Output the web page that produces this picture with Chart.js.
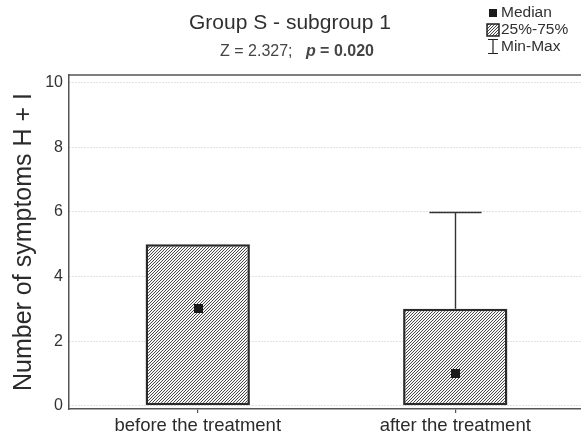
<!DOCTYPE html>
<html>
<head>
<meta charset="utf-8">
<script src="https://cdn.jsdelivr.net/npm/chart.js@4/dist/chart.umd.min.js"></script>
<style>
  html, body { margin: 0; padding: 0; background: #fff; overflow: hidden; }
  /* the plot runs off the right edge of the frame */
  #wrap { width: 581px; height: 440px; position: relative; overflow: hidden; }
  #c { display: block; }
</style>
</head>
<body>
<div id="wrap"><canvas id="c" width="584" height="440"></canvas></div>
<script>
// Categories and box-plot statistics
const categories = ['before the treatment', 'after the treatment'];
const q1Values     = [0, 0];
const q3Values     = [5, 3];
const medianValues = [3, 1];
const minValues    = [0, 0];
const maxValues    = [5, 6];
const yTicks       = [0, 2, 4, 6, 8, 10];

const titleText    = 'Group S - subgroup 1';
const statText     = 'Z = 2.327;   ';
const pLabel       = 'p';
const pValueText   = ' = 0.020';
const yAxisTitle   = 'Number of symptoms H + I';
const legendLabels = ['Median', '25%-75%', 'Min-Max'];

const FONT = '"Liberation Sans", Arial, sans-serif';
const INK = '#2b2b2b';

// Diagonal hatch ("////") used for the interquartile boxes
function makeHatch() {
  const t = document.createElement('canvas');
  t.width = 3; t.height = 3;
  const g = t.getContext('2d');
  g.fillStyle = '#f6f6f6';
  g.fillRect(0, 0, 3, 3);
  g.fillStyle = '#4a4a4a';
  g.fillRect(0, 2, 1, 1);
  g.fillRect(1, 1, 1, 1);
  g.fillRect(2, 0, 1, 1);
  return g.createPattern(t, 'repeat');
}
const hatch = makeHatch();

// Whiskers, medians, frame, titles and legend
const boxExtras = {
  id: 'boxExtras',
  afterDatasetsDraw(chart) {
    const { ctx, chartArea } = chart;
    const x = chart.scales.x, y = chart.scales.y;
    const meta = chart.getDatasetMeta(0);
    ctx.save();
    meta.data.forEach((bar, i) => {
      const cx = Math.round(x.getPixelForValue(i)) + 0.5;
      const half = bar.width / 4;
      ctx.strokeStyle = '#333';
      ctx.lineWidth = 1.4;
      if (maxValues[i] > q3Values[i]) {
        const yTop = Math.round(y.getPixelForValue(maxValues[i])) + 0.5;
        const yBox = y.getPixelForValue(q3Values[i]);
        ctx.beginPath();
        ctx.moveTo(cx, yBox); ctx.lineTo(cx, yTop);
        ctx.moveTo(cx - half, yTop); ctx.lineTo(cx + half, yTop);
        ctx.stroke();
      }
      if (minValues[i] < q1Values[i]) {
        const yBot = Math.round(y.getPixelForValue(minValues[i])) + 0.5;
        const yBox = y.getPixelForValue(q1Values[i]);
        ctx.beginPath();
        ctx.moveTo(cx, yBox); ctx.lineTo(cx, yBot);
        ctx.moveTo(cx - half, yBot); ctx.lineTo(cx + half, yBot);
        ctx.stroke();
      }
      // median marker
      const my = y.getPixelForValue(medianValues[i]);
      ctx.fillStyle = '#1a1a1a';
      ctx.fillRect(Math.round(cx - 4.5), Math.round(my - 4.5), 9, 9);
    });
    // top frame line
    ctx.strokeStyle = '#555';
    ctx.lineWidth = 1.5;
    ctx.beginPath();
    ctx.moveTo(chartArea.left, chartArea.top);
    ctx.lineTo(chartArea.right, chartArea.top);
    ctx.stroke();

    // titles
    ctx.fillStyle = '#303030';
    ctx.textBaseline = 'middle';
    ctx.textAlign = 'center';
    ctx.font = '21px ' + FONT;
    ctx.fillText(titleText, 290, 23);
    const subSize = 16;
    ctx.font = subSize + 'px ' + FONT;
    const w1 = ctx.measureText(statText).width;
    ctx.font = 'italic bold ' + subSize + 'px ' + FONT;
    const w2 = ctx.measureText(pLabel).width;
    ctx.font = 'bold ' + subSize + 'px ' + FONT;
    const w3 = ctx.measureText(pValueText).width;
    const sx = 297 - (w1 + w2 + w3) / 2;
    ctx.textAlign = 'left';
    ctx.fillStyle = '#454545';
    ctx.font = subSize + 'px ' + FONT;
    ctx.fillText(statText, sx, 52);
    ctx.font = 'italic bold ' + subSize + 'px ' + FONT;
    ctx.fillText(pLabel, sx + w1, 52);
    ctx.font = 'bold ' + subSize + 'px ' + FONT;
    ctx.fillText(pValueText, sx + w1 + w2, 52);

    // legend
    const lx = 487, ly = [13, 30, 47];
    ctx.fillStyle = '#1a1a1a';
    ctx.fillRect(lx + 2, ly[0] - 4, 8, 8);
    ctx.fillStyle = hatch;
    ctx.fillRect(lx, ly[1] - 6, 12, 12);
    ctx.strokeStyle = '#222';
    ctx.lineWidth = 1.5;
    ctx.strokeRect(lx, ly[1] - 6, 12, 12);
    ctx.lineWidth = 1.2;
    ctx.beginPath();
    ctx.moveTo(lx + 1, ly[2] - 7.5); ctx.lineTo(lx + 11, ly[2] - 7.5);
    ctx.moveTo(lx + 6, ly[2] - 7.5); ctx.lineTo(lx + 6, ly[2] + 6.5);
    ctx.moveTo(lx + 1, ly[2] + 6.5); ctx.lineTo(lx + 11, ly[2] + 6.5);
    ctx.stroke();
    ctx.fillStyle = '#303030';
    ctx.font = '15.5px ' + FONT;
    ctx.textAlign = 'left';
    legendLabels.forEach((t, k) => ctx.fillText(t, lx + 14, ly[k]));
    ctx.restore();
  }
};

new Chart(document.getElementById('c'), {
  type: 'bar',
  data: {
    labels: categories,
    datasets: [{
      data: q1Values.map((v, i) => [v, q3Values[i]]),
      backgroundColor: hatch,
      borderColor: '#2a2a2a',
      borderWidth: 2.5,
      borderSkipped: false,
      categoryPercentage: 1,
      barPercentage: 0.405
    }]
  },
  options: {
    responsive: false,
    animation: false,
    devicePixelRatio: 1,
    layout: { padding: { top: 75, right: 0, left: 0, bottom: 0 } },
    plugins: { legend: { display: false }, tooltip: { enabled: false } },
    scales: {
      x: {
        offset: true,
        afterFit: (s) => { s.height = 31; },
        grid: { display: true, drawOnChartArea: false, offset: false, tickLength: 4, color: '#555', lineWidth: 1.2 },
        border: { color: '#555', width: 1.5 },
        ticks: { color: INK, font: { size: 18.5, family: FONT }, padding: 2 }
      },
      y: {
        min: -0.1,
        max: 10.24,
        afterBuildTicks: (s) => { s.ticks = yTicks.map(v => ({ value: v })); },
        afterFit: (s) => { s.width = 69; },
        grid: { color: '#c4c4c4', lineWidth: 1, drawTicks: false },
        border: { color: '#555', width: 1.5, dash: [1, 2] },
        ticks: { color: '#333', font: { size: 16, family: FONT }, padding: 6 },
        title: { display: true, text: yAxisTitle, color: INK, font: { size: 25, family: FONT }, padding: { top: 9, bottom: 0 } }
      }
    }
  },
  plugins: [boxExtras]
});
</script>
</body>
</html>
